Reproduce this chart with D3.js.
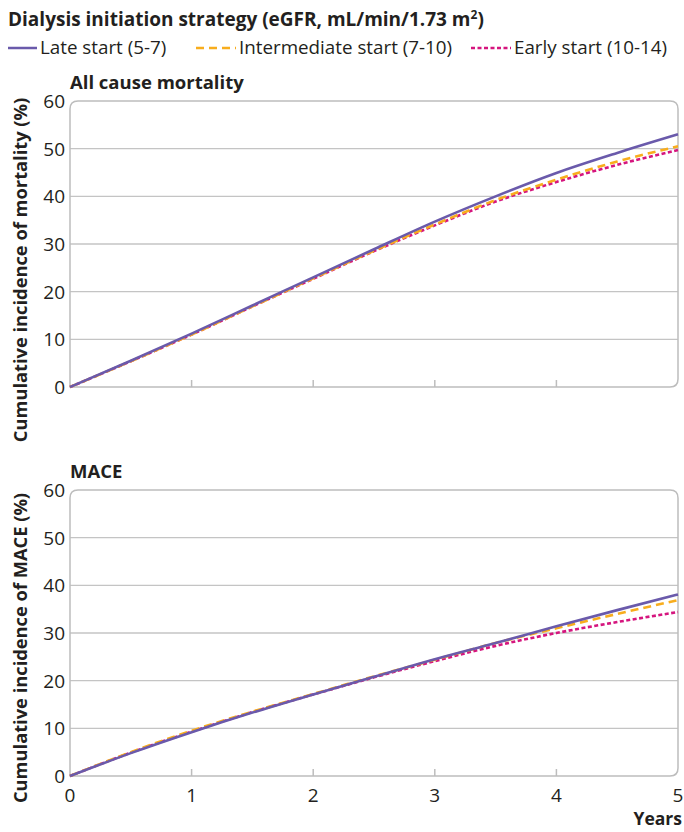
<!DOCTYPE html>
<html>
<head>
<meta charset="utf-8">
<script src="https://cdn.jsdelivr.net/npm/d3@7"></script>
<style>
  body { margin: 0; background: #fff; }
  text { font-family: "Open Sans", "Noto Sans", sans-serif; fill: #231f20; }
  .bold { font-weight: 700; }
</style>
</head>
<body>
<div id="chart"></div>
<script>
var width = 684;
var height = 832;

// data
var years = [0, 0.5, 1, 1.5, 2, 2.5, 3, 3.5, 4, 4.5, 5];
var mortLate  = [0, 5.5, 11.2, 17.1, 23.0, 28.9, 34.7, 40.0, 44.9, 49.1, 53.0];
var mortInter = [0, 5.4, 11.0, 16.9, 22.8, 28.6, 34.1, 39.2, 43.5, 47.3, 50.5];
var mortEarly = [0, 5.4, 11.0, 16.9, 22.7, 28.5, 33.9, 38.9, 43.0, 46.6, 49.7];
var maceLate  = [0, 4.8, 9.2, 13.3, 17.1, 20.8, 24.5, 27.9, 31.4, 34.8, 38.1];
var maceInter = [0, 5.0, 9.5, 13.5, 17.2, 20.9, 24.4, 27.9, 31.0, 34.0, 36.9];
var maceEarly = [0, 4.9, 9.3, 13.4, 17.1, 20.7, 24.1, 27.3, 30.0, 32.3, 34.4];
var yTicks = [0, 10, 20, 30, 40, 50, 60];
var xTicks = [0, 1, 2, 3, 4, 5];
var seriesNames = ["Late start (5-7)", "Intermediate start (7-10)", "Early start (10-14)"];
var seriesColors = ["#6a5aab", "#f8ad1d", "#d5157e"];
var seriesDash = [null, "8,5", "4,2.5"];

var svg = d3.select("#chart").append("svg")
  .attr("width", width)
  .attr("height", height);

// legend
svg.append("text")
  .attr("class", "bold")
  .attr("x", 8)
  .attr("y", 26)
  .style("font-size", "19px")
  .html("Dialysis initiation strategy (eGFR, mL/min/1.73 m<tspan dy='-7' style='font-size:12px'>2</tspan><tspan dy='7'>)</tspan>");

var legendX = [8, 196, 471];
var legendW = [29, 40, 40];
seriesNames.forEach(function(name, i) {
  svg.append("line")
    .attr("x1", legendX[i])
    .attr("x2", legendX[i] + legendW[i])
    .attr("y1", 48)
    .attr("y2", 48)
    .attr("stroke", seriesColors[i])
    .attr("stroke-width", 2.5)
    .attr("stroke-dasharray", seriesDash[i]);
  svg.append("text")
    .attr("x", legendX[i] + legendW[i] + 3)
    .attr("y", 54)
    .style("font-size", "18.8px")
    .text(name);
});

var x = d3.scaleLinear().domain([0, 5]).range([70, 678]);

function drawPanel(title, top, bottom, label, labelY, data, showLabels) {
  var y = d3.scaleLinear().domain([0, 60]).range([bottom, top]);
  var g = svg.append("g");

  // grid
  g.selectAll(".grid")
    .data(yTicks.filter(function(d) { return d > 0 && d < 60; }))
    .enter()
    .append("line")
    .attr("x1", x(0))
    .attr("x2", x(5))
    .attr("y1", function(d) { return y(d); })
    .attr("y2", function(d) { return y(d); })
    .attr("stroke", "#c4c4c4")
    .attr("stroke-width", 1.3);

  // frame with rounded corners
  var r = 8;
  var x0 = x(0), x1 = x(5), y0 = y(60), y1 = y(0);
  g.append("path")
    .attr("d", "M" + x0 + "," + y1 +
      " L" + x0 + "," + (y0 + r) +
      " Q" + x0 + "," + y0 + " " + (x0 + r) + "," + y0 +
      " L" + (x1 - r) + "," + y0 +
      " Q" + x1 + "," + y0 + " " + x1 + "," + (y0 + r) +
      " L" + x1 + "," + (y1 - r) +
      " Q" + x1 + "," + y1 + " " + (x1 - r) + "," + y1 +
      " Z")
    .attr("fill", "none")
    .attr("stroke", "#bdbdbd")
    .attr("stroke-width", 1.5);

  // x ticks (inward)
  g.selectAll(".xt")
    .data(xTicks.filter(function(d) { return d > 0 && d < 5; }))
    .enter()
    .append("line")
    .attr("x1", function(d) { return x(d); })
    .attr("x2", function(d) { return x(d); })
    .attr("y1", y1)
    .attr("y2", y1 - 7)
    .attr("stroke", "#bdbdbd")
    .attr("stroke-width", 1.5);

  // y tick labels
  g.selectAll(".yl")
    .data(yTicks)
    .enter()
    .append("text")
    .attr("x", 65)
    .attr("y", function(d) { return y(d) + 7; })
    .attr("text-anchor", "end")
    .style("font-size", "19px")
    .text(function(d) { return d; });

  if (showLabels) {
    g.selectAll(".xl")
      .data(xTicks)
      .enter()
      .append("text")
      .attr("x", function(d) { return x(d); })
      .attr("y", y1 + 26)
      .attr("text-anchor", "middle")
      .style("font-size", "19px")
      .text(function(d) { return d; });
  }

  g.append("text")
    .attr("class", "bold")
    .attr("x", 70)
    .attr("y", top - 12)
    .style("font-size", "18.5px")
    .text(title);

  g.append("text")
    .attr("class", "bold")
    .attr("transform", "translate(27," + labelY + ") rotate(-90)")
    .attr("text-anchor", "middle")
    .style("font-size", "18.3px")
    .text(label);

  var line = d3.line()
    .x(function(d, i) { return x(years[i]); })
    .y(function(d) { return y(d); })
    .curve(d3.curveMonotoneX);

  // draw early first so late sits on top
  [2, 1, 0].forEach(function(i) {
    g.append("path")
      .datum(data[i])
      .attr("d", line)
      .attr("fill", "none")
      .attr("stroke", seriesColors[i])
      .attr("stroke-width", 2.6)
      .attr("stroke-dasharray", seriesDash[i]);
  });
}

drawPanel("All cause mortality", 101, 387, "Cumulative incidence of mortality (%)", 270,
  [mortLate, mortInter, mortEarly], false);
drawPanel("MACE", 490, 776, "Cumulative incidence of MACE (%)", 648,
  [maceLate, maceInter, maceEarly], true);

svg.append("text")
  .attr("class", "bold")
  .attr("x", 682)
  .attr("y", 825)
  .attr("text-anchor", "end")
  .style("font-size", "17.5px")
  .text("Years");
</script>
</body>
</html>
